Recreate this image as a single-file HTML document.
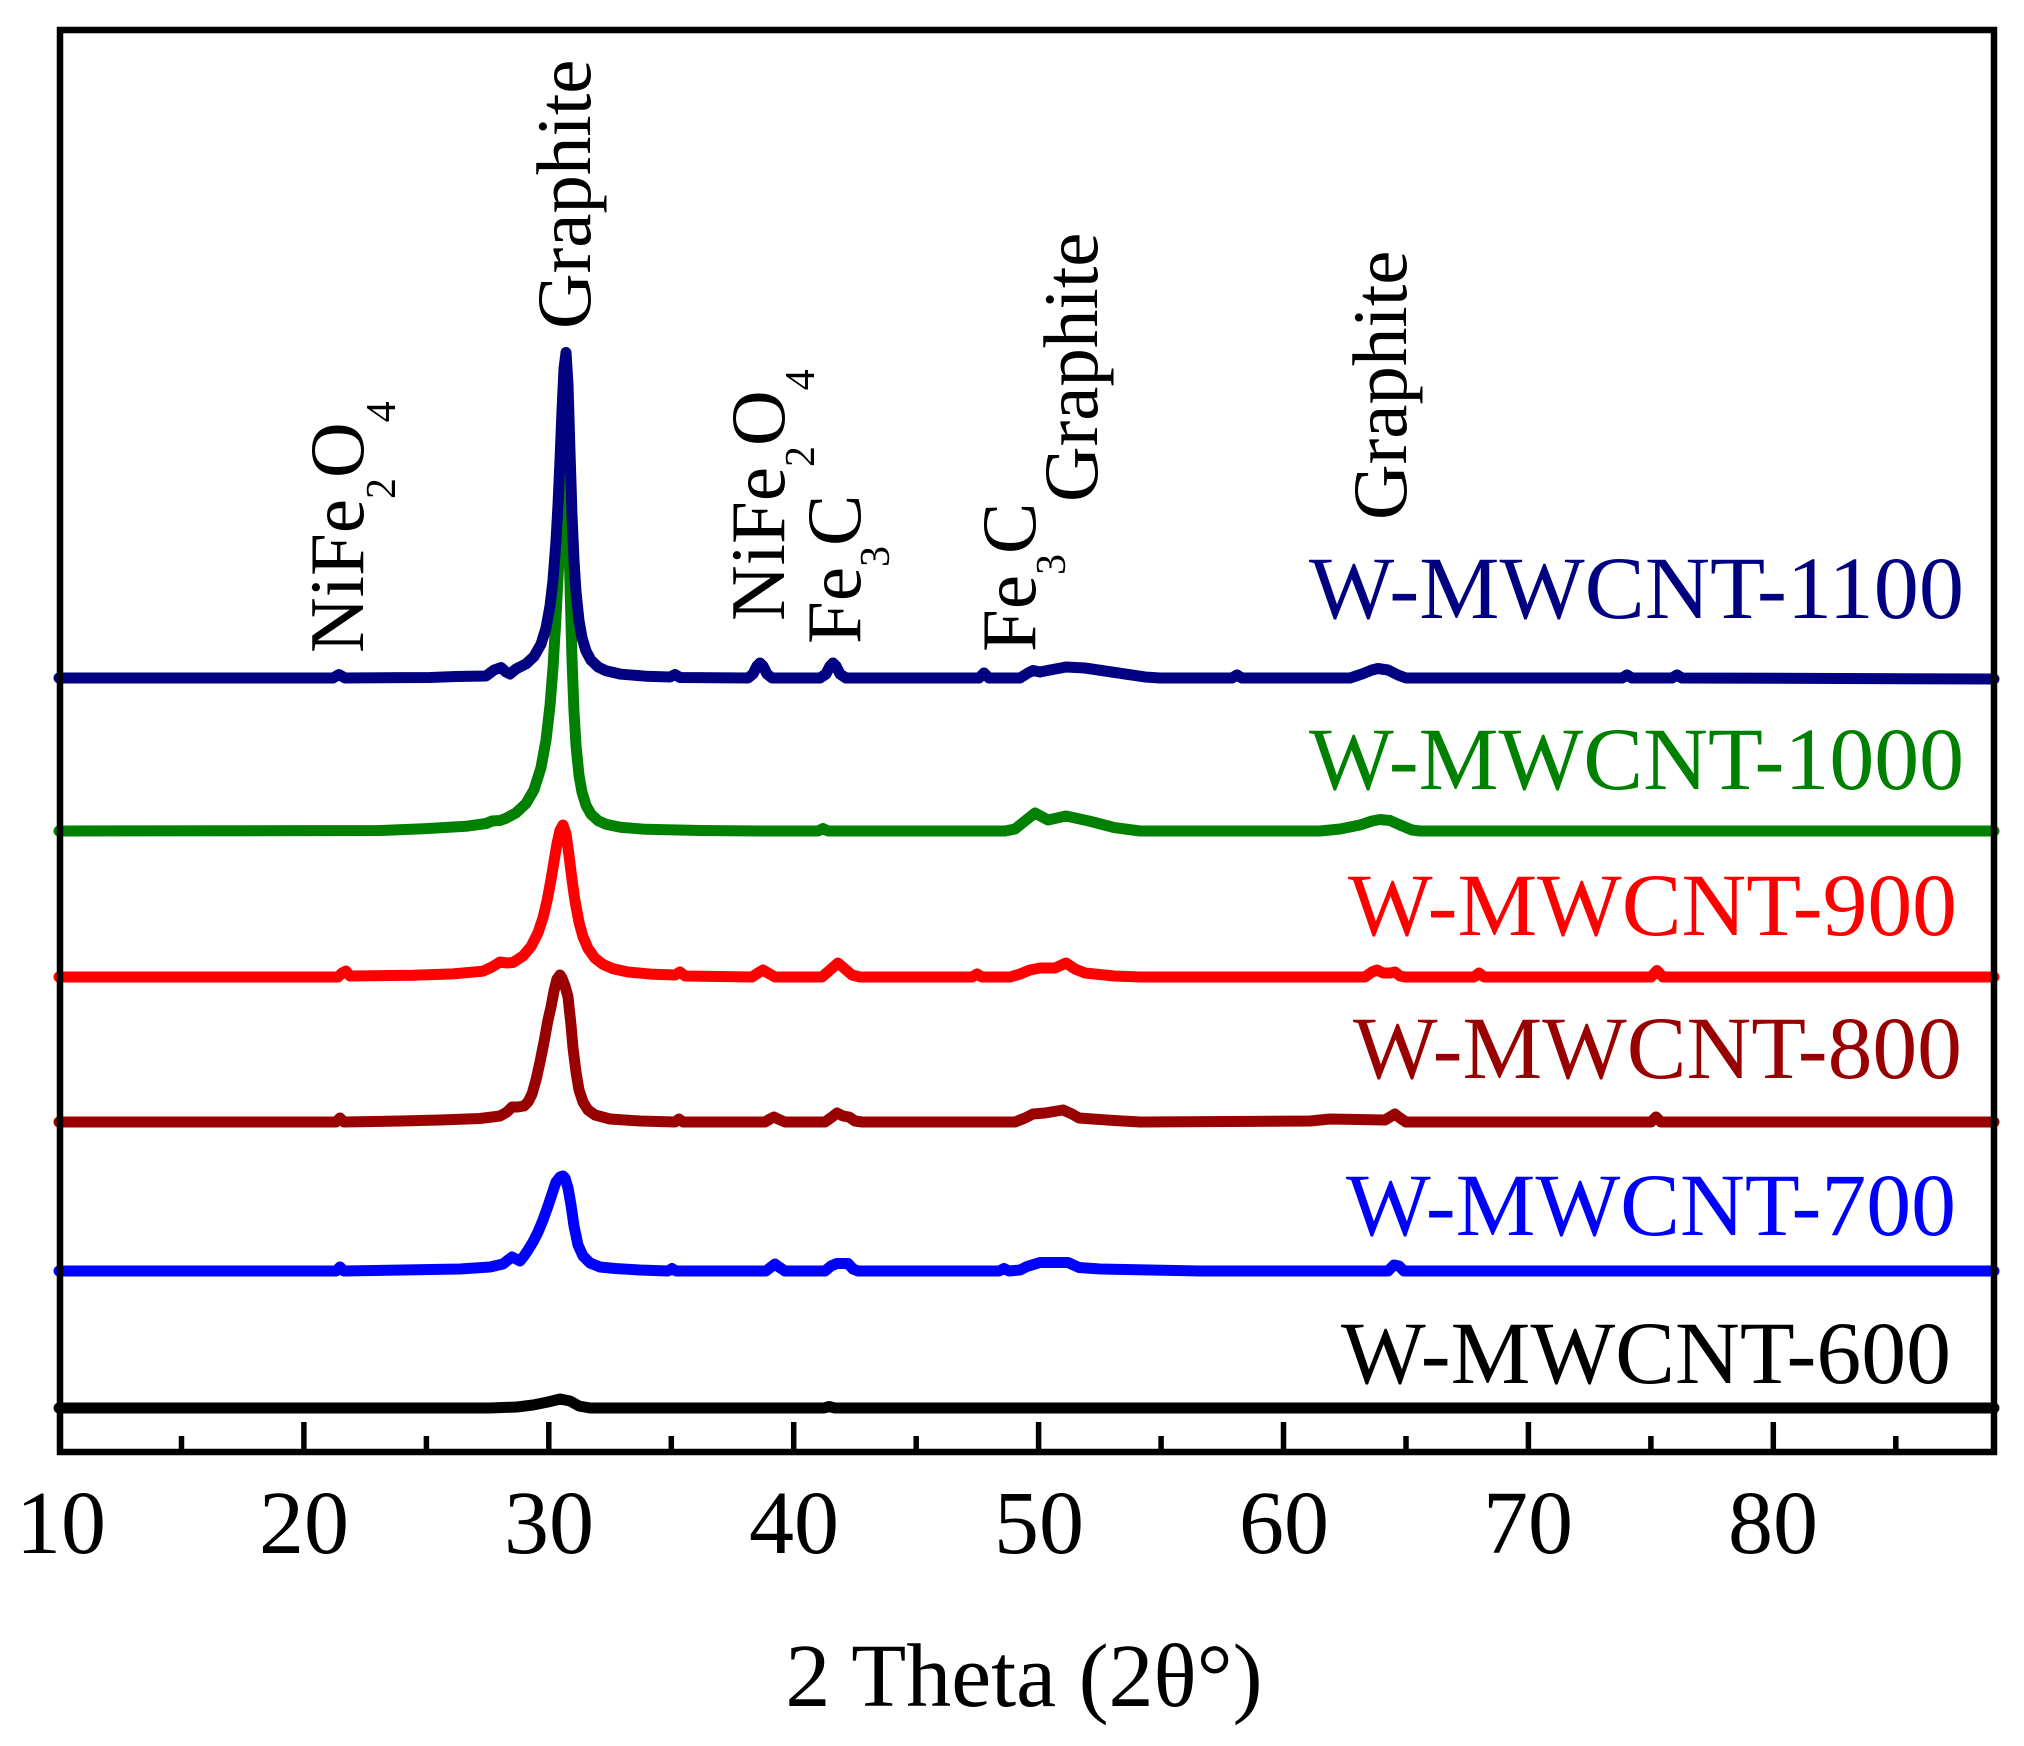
<!DOCTYPE html>
<html>
<head>
<meta charset="utf-8">
<style>
  html,body{margin:0;padding:0;background:#ffffff;}
  svg{display:block;}
  text{font-family:"Liberation Serif","Times New Roman",serif;}
</style>
</head>
<body>
<svg width="2024" height="1746" viewBox="0 0 2024 1746" xmlns="http://www.w3.org/2000/svg">
  <rect x="0" y="0" width="2024" height="1746" fill="#ffffff"/>

  <g fill="none" stroke-width="11" stroke-linejoin="round" stroke-linecap="round">
    <!-- W-MWCNT-600 (black) -->
    <path stroke="#000000" d="M59,1408 L490,1408 L517,1407 L533,1405 L548,1402 L560,1399 L570,1401 L579,1406 L590,1408 L824,1408 L829,1406.5 L835,1408 L1994,1408"/>
    <!-- W-MWCNT-700 (blue) -->
    <path stroke="#0000FF" d="M59,1271 L336,1271 L340,1267 L344,1271 L460,1269 L490,1267 L503,1264 L508,1260 L512,1257 L516,1259 L520,1261 L524,1256 L528,1250 L533,1242 L538,1232 L543,1220 L548,1206 L552,1194 L556,1182 L560,1177 L563,1176 L565,1178 L568,1188 L571,1205 L574,1226 L578,1245 L583,1256 L590,1263 L600,1267 L615,1268.5 L640,1270 L668,1271 L672,1268.5 L676,1271 L766,1271 L771,1267 L775,1264 L779,1267 L785,1271 L825,1271 L831,1266 L837,1263.5 L848,1263.5 L853,1269 L858,1271 L999,1271 L1004,1268.5 L1009,1271 L1020,1270 L1027,1266.5 L1040,1262.5 L1068,1262.5 L1079,1267.5 L1100,1269 L1150,1270 L1200,1271 L1388,1271 L1394,1265 L1399,1266 L1404,1271 L1994,1271"/>
    <!-- W-MWCNT-800 (dark red) -->
    <path stroke="#990000" d="M59,1122 L336,1122 L340,1118 L344,1122 L400,1121 L440,1120 L480,1118.5 L500,1116 L507,1112 L512,1107 L518,1107 L524,1106 L528,1102 L532,1094 L536,1080 L540,1062 L544,1042 L548,1020 L551,1007 L554,991 L557,979 L560,975 L562,978 L565,986 L568,997 L571,1025 L573,1048 L576,1072 L579,1090 L583,1102 L588,1110 L595,1115 L610,1119 L640,1121 L675,1122 L679,1119 L683,1122 L765,1122 L770,1119 L774,1117 L778,1119 L785,1122 L825,1122 L832,1117 L837,1113 L843,1116 L849,1117 L855,1121 L862,1122 L1015,1122 L1025,1118 L1033,1114 L1045,1113 L1063,1110 L1072,1114 L1079,1118 L1114,1120.5 L1140,1122 L1310,1121 L1330,1119 L1385,1120 L1390,1117 L1395,1114 L1400,1118 L1406,1122 L1651,1122 L1656,1117 L1661,1122 L1994,1122"/>
    <!-- W-MWCNT-900 (red) -->
    <path stroke="#FF0000" d="M59,977 L338,977 L342,973 L346,971 L350,976 L413,975.3 L453,973.9 L483,971.2 L492,967 L500,962 L507,963 L513,962.5 L523,956 L531,946.6 L538,932.8 L543,917.7 L547,901 L551,879.7 L554,861.5 L557,843.7 L560,830.2 L563,825 L566,833.9 L569,855.4 L572,879.7 L575,901 L579,922.3 L583,936.8 L588,948.5 L595,958.3 L603,964.4 L613,968.7 L628,972 L653,974.3 L675,975 L680,972 L685,976 L752,977 L758,973 L763,970 L768,973 L775,977 L822,977 L830,970 L838,963 L845,969 L852,975 L860,977 L972,977 L977,974 L982,977 L1010,977 L1020,974 L1030,970 L1040,968 L1055,968 L1066,963 L1075,969 L1085,973 L1114,976 L1140,977 L1365,977 L1372,972 L1377,970 L1383,973 L1390,973 L1395,972 L1400,976 L1405,977 L1474,977 L1479,973 L1484,977 L1651,977 L1657,970.5 L1663,977 L1994,977"/>
    <!-- W-MWCNT-1000 (green) -->
    <path stroke="#008000" d="M59,831 L380,830.5 L426,828.6 L466,826.3 L486,823.5 L492,821 L500,820.5 L506,818.3 L516,812.9 L526,803.5 L534,789.7 L541,767.6 L546,740.2 L550,705.5 L553,667.9 L556,616.9 L558,578 L560,535 L562,495 L564,468 L566,458 L568,498 L570,585 L572,659.6 L574,711.7 L576,745.3 L579,775.3 L582,792.3 L586,805.3 L591,814.2 L598,820.6 L606,824.3 L621,827.4 L646,829.3 L700,830.5 L760,831 L818,831 L823,828.5 L828,831 L1005,831 L1015,829 L1025,821 L1035,813 L1048,820 L1066,816 L1089,821 L1114,827.5 L1140,831 L1320,831 L1340,829 L1360,825 L1372,821 L1380,819.5 L1390,820.5 L1400,825 L1412,830 L1420,831 L1994,831"/>
    <!-- W-MWCNT-1100 (navy) -->
    <path stroke="#000080" d="M59,678 L333,678 L339,674.5 L345,678 L430,677.5 L456,676.5 L486,676 L494,670 L501,667.5 L506,672 L510,674 L516,669 L526,663.9 L534,656.5 L541,644.2 L546,628 L550,606.1 L553,580.2 L556,541 L558,504.9 L560,460.1 L562,410.7 L564,368.6 L566,352.5 L568,384.1 L570,451.9 L572,514.7 L574,560.5 L576,591.6 L579,620.7 L582,637.7 L586,651 L591,660.2 L598,666.9 L606,670.8 L621,674.2 L646,676.2 L670,677 L675,674.5 L680,677.5 L748,678 L753,674 L757,666 L760,663 L763,666 L767,674 L772,678 L820,678 L826,674 L830,666 L833,663 L836,666 L840,674 L846,678 L979,678 L984,673 L989,678 L1020,678 L1028,673 L1033,670.5 L1040,672 L1050,670 L1066,667 L1085,668 L1105,671 L1125,674 L1145,677 L1160,678 L1232,678 L1237,675 L1242,678 L1350,678 L1362,674 L1372,670 L1378,668.5 L1388,670 L1398,675 L1406,678 L1622,678 L1627,675 L1632,678 L1672,678 L1677,675 L1682,678 L1994,679"/>
  </g>

  <!-- Frame -->
  <rect x="60" y="30" width="1934" height="1422" fill="none" stroke="#000" stroke-width="6.5"/>

  <!-- Ticks -->
  <g stroke="#000" stroke-width="5.5">
    <line x1="303.9" y1="1422" x2="303.9" y2="1452"/>
    <line x1="548.8" y1="1422" x2="548.8" y2="1452"/>
    <line x1="793.7" y1="1422" x2="793.7" y2="1452"/>
    <line x1="1038.6" y1="1422" x2="1038.6" y2="1452"/>
    <line x1="1283.5" y1="1422" x2="1283.5" y2="1452"/>
    <line x1="1528.4" y1="1422" x2="1528.4" y2="1452"/>
    <line x1="1773.3" y1="1422" x2="1773.3" y2="1452"/>
    <line x1="181.5" y1="1436" x2="181.5" y2="1452"/>
    <line x1="426.4" y1="1436" x2="426.4" y2="1452"/>
    <line x1="671.3" y1="1436" x2="671.3" y2="1452"/>
    <line x1="916.2" y1="1436" x2="916.2" y2="1452"/>
    <line x1="1161.1" y1="1436" x2="1161.1" y2="1452"/>
    <line x1="1406" y1="1436" x2="1406" y2="1452"/>
    <line x1="1650.9" y1="1436" x2="1650.9" y2="1452"/>
    <line x1="1895.8" y1="1436" x2="1895.8" y2="1452"/>
  </g>

  <!-- Tick labels -->
  <g font-size="90" fill="#000" text-anchor="middle">
    <text x="61" y="1553">10</text>
    <text x="304" y="1553">20</text>
    <text x="549" y="1553">30</text>
    <text x="794" y="1553">40</text>
    <text x="1039" y="1553">50</text>
    <text x="1284" y="1553">60</text>
    <text x="1528" y="1553">70</text>
    <text x="1773" y="1553">80</text>
  </g>

  <!-- Axis title -->
  <text x="1024" y="1706" font-size="90" fill="#000" text-anchor="middle">2 Theta (2θ°)</text>

  <!-- Series labels -->
  <g font-size="89">
    <text x="1309" y="618" fill="#000080" textLength="655" lengthAdjust="spacingAndGlyphs">W-MWCNT-1100</text>
    <text x="1309" y="789" fill="#008000" textLength="655" lengthAdjust="spacingAndGlyphs">W-MWCNT-1000</text>
    <text x="1348" y="935" fill="#FF0000" textLength="609" lengthAdjust="spacingAndGlyphs">W-MWCNT-900</text>
    <text x="1353" y="1078" fill="#990000" textLength="609" lengthAdjust="spacingAndGlyphs">W-MWCNT-800</text>
    <text x="1346" y="1235" fill="#0000FF" textLength="610" lengthAdjust="spacingAndGlyphs">W-MWCNT-700</text>
    <text x="1341" y="1383" fill="#000000" textLength="610" lengthAdjust="spacingAndGlyphs">W-MWCNT-600</text>
  </g>

  <!-- Peak annotations (rotated) -->
  <g font-size="77" fill="#000">
    <text transform="translate(363,653) rotate(-90)">NiFe<tspan font-size="42" dy="32">2</tspan><tspan dy="-32">O</tspan><tspan font-size="42" dy="32">4</tspan></text>
    <text transform="translate(590,329) rotate(-90)">Graphite</text>
    <text transform="translate(784,621) rotate(-90)">NiFe<tspan font-size="42" dy="30">2</tspan><tspan dy="-30">O</tspan><tspan font-size="42" dy="30">4</tspan></text>
    <text transform="translate(860,644) rotate(-90)">Fe<tspan font-size="42" dy="29">3</tspan><tspan dy="-29">C</tspan></text>
    <text transform="translate(1035,652) rotate(-90)">Fe<tspan font-size="42" dy="30">3</tspan><tspan dy="-30">C</tspan></text>
    <text transform="translate(1097,502) rotate(-90)">Graphite</text>
    <text transform="translate(1406,520) rotate(-90)">Graphite</text>
  </g>
</svg>
</body>
</html>
